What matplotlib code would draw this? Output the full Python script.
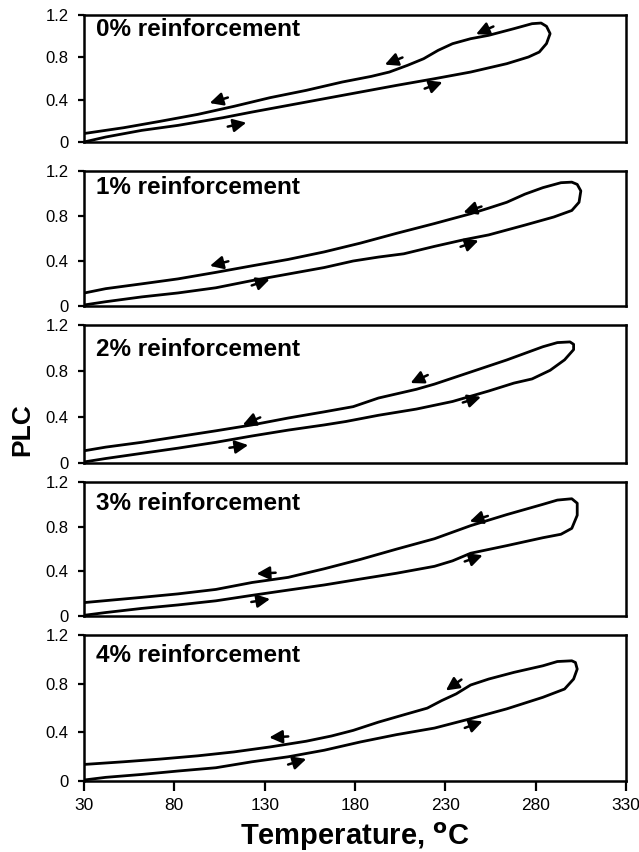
import numpy as np
import matplotlib
matplotlib.use("Agg")
import matplotlib.pyplot as plt

plt.rcParams['font.family'] = ['Liberation Sans', 'DejaVu Sans']

# reinforcement levels
labels = ["0% reinforcement", "1% reinforcement", "2% reinforcement",
          "3% reinforcement", "4% reinforcement"]

# heating branch (lower curve, incl. the turn at the top) and cooling branch
temp_0_heat = [30, 42, 62, 82, 107, 123, 143, 163, 183, 203, 224, 244, 264, 276, 282, 286, 288, 286, 283]
plc_0_heat = [0.0, 0.047, 0.11, 0.157, 0.23, 0.283, 0.346, 0.409, 0.472, 0.535, 0.598, 0.661, 0.74, 0.803, 0.85, 0.93, 1.024, 1.093, 1.124]
temp_0_cool = [278, 268, 254, 244, 234, 226, 218, 209, 199, 189, 173, 153, 133, 113, 93, 72, 52, 30]
plc_0_cool = [1.118, 1.071, 1.008, 0.976, 0.929, 0.866, 0.787, 0.724, 0.661, 0.62, 0.567, 0.488, 0.419, 0.337, 0.261, 0.195, 0.135, 0.08]

temp_1_heat = [30, 42, 62, 82, 103, 123, 143, 163, 179, 193, 207, 224, 240, 254, 274, 290, 300, 304, 305, 303, 300]
plc_1_heat = [0.009, 0.038, 0.081, 0.116, 0.162, 0.226, 0.284, 0.342, 0.4, 0.435, 0.464, 0.53, 0.588, 0.632, 0.719, 0.791, 0.849, 0.922, 1.023, 1.081, 1.101]
temp_1_cool = [294, 284, 274, 264, 254, 244, 224, 203, 183, 163, 143, 123, 103, 82, 62, 42, 30]
plc_1_cool = [1.096, 1.052, 0.994, 0.922, 0.87, 0.82, 0.733, 0.646, 0.559, 0.481, 0.414, 0.357, 0.299, 0.241, 0.197, 0.154, 0.115]

temp_2_heat = [30, 42, 62, 82, 103, 123, 143, 163, 175, 193, 214, 234, 254, 268, 278, 288, 296, 301, 301, 299]
plc_2_heat = [0.009, 0.039, 0.084, 0.129, 0.18, 0.235, 0.286, 0.331, 0.361, 0.415, 0.469, 0.535, 0.626, 0.695, 0.731, 0.806, 0.897, 0.986, 1.032, 1.053]
temp_2_cool = [292, 284, 264, 244, 224, 214, 193, 179, 163, 143, 123, 103, 82, 62, 42, 30]
plc_2_cool = [1.047, 1.011, 0.896, 0.791, 0.686, 0.641, 0.565, 0.49, 0.445, 0.391, 0.331, 0.28, 0.229, 0.18, 0.138, 0.106]

temp_3_heat = [30, 42, 62, 82, 103, 123, 143, 163, 183, 203, 224, 234, 244, 264, 284, 294, 300, 303, 303, 300]
plc_3_heat = [0.006, 0.031, 0.068, 0.099, 0.136, 0.185, 0.232, 0.278, 0.331, 0.383, 0.445, 0.494, 0.562, 0.63, 0.701, 0.732, 0.785, 0.902, 1.01, 1.05]
temp_3_cool = [292, 284, 264, 244, 224, 203, 183, 163, 143, 123, 103, 82, 62, 30]
plc_3_cool = [1.038, 1.0, 0.908, 0.809, 0.692, 0.599, 0.507, 0.423, 0.346, 0.3, 0.238, 0.198, 0.167, 0.12]

temp_4_heat = [30, 42, 62, 82, 103, 123, 143, 163, 183, 203, 224, 244, 264, 284, 296, 301, 303, 302, 300]
plc_4_heat = [0.008, 0.03, 0.054, 0.082, 0.109, 0.158, 0.199, 0.253, 0.321, 0.381, 0.435, 0.512, 0.593, 0.688, 0.756, 0.838, 0.92, 0.974, 0.988]
temp_4_cool = [292, 284, 268, 254, 244, 236, 228, 220, 207, 193, 179, 167, 153, 133, 113, 93, 72, 52, 30]
plc_4_cool = [0.982, 0.947, 0.893, 0.838, 0.789, 0.716, 0.661, 0.599, 0.544, 0.484, 0.416, 0.37, 0.327, 0.28, 0.239, 0.207, 0.18, 0.158, 0.136]

# direction arrows: (temperature, PLC, direction, angle in degrees)
arrows_0 = [(104.6, 0.394, -1, 17), (201.4, 0.765, -1, 22), (251.8, 1.055, -1, 24),
            (114.7, 0.164, 1, 12), (223.5, 0.535, 1, 20)]
arrows_1 = [(104.8, 0.377, -1, 14), (245, 0.858, -1, 18),
            (127.8, 0.21, 1, 19), (243.4, 0.554, 1, 19)]
arrows_2 = [(122.7, 0.364, -1, 23), (215.5, 0.73, -1, 25),
            (115.7, 0.144, 1, 8), (244.7, 0.55, 1, 17)]
arrows_3 = [(130.8, 0.383, -1, 3), (248.5, 0.871, -1, 17),
            (127.8, 0.139, 1, 9), (245.7, 0.516, 1, 19)]
arrows_4 = [(137.8, 0.362, -1, 3), (234.6, 0.789, -1, 35),
            (148, 0.158, 1, 17), (245.7, 0.463, 1, 20)]

heat_t = [temp_0_heat, temp_1_heat, temp_2_heat, temp_3_heat, temp_4_heat]
heat_p = [plc_0_heat, plc_1_heat, plc_2_heat, plc_3_heat, plc_4_heat]
cool_t = [temp_0_cool, temp_1_cool, temp_2_cool, temp_3_cool, temp_4_cool]
cool_p = [plc_0_cool, plc_1_cool, plc_2_cool, plc_3_cool, plc_4_cool]
arrows = [arrows_0, arrows_1, arrows_2, arrows_3, arrows_4]

x_ticks = [30, 80, 130, 180, 230, 280, 330]
y_ticks = [0, 0.4, 0.8, 1.2]

W, H = 639, 852
fig = plt.figure(figsize=(W / 100, H / 100), dpi=100)

# panel frames in pixels (top, bottom)
frames = [(15, 142), (171, 306), (325, 463), (482, 616), (635, 781)]
label_off = [15, 16, 24, 22, 20]
left_px, right_px = 84, 626


def draw_arrow(ax, cx, cy, d, ang):
    px, py = ax.transData.transform((cx, cy))
    L = 19
    th = np.radians(ang)
    dx = d * L / 2 * np.cos(th)
    dy = d * L / 2 * np.sin(th)
    inv = ax.transData.inverted()
    tail = inv.transform((px - dx, py - dy))
    head = inv.transform((px + dx, py + dy))
    ax.annotate('', xy=head, xytext=tail,
                arrowprops=dict(arrowstyle='-|>,head_length=0.6,head_width=0.3',
                                lw=1.8, color='black', shrinkA=0, shrinkB=0,
                                mutation_scale=13))


for i in range(5):
    top, bot = frames[i]
    ax = fig.add_axes([left_px / W, 1 - bot / H, (right_px - left_px) / W, (bot - top) / H])
    t = list(heat_t[i]) + list(cool_t[i])
    p = list(heat_p[i]) + list(cool_p[i])
    ax.plot(t, p, color='black', lw=2.0, solid_joinstyle='round', solid_capstyle='round')
    ax.set_xlim(30, 330)
    ax.set_ylim(0, 1.2)
    ax.set_yticks(y_ticks)
    ax.set_yticklabels(['0', '0.4', '0.8', '1.2'])
    for s in ax.spines.values():
        s.set_linewidth(1.8)
    ax.tick_params(axis='y', direction='out', length=4, width=1.6, labelsize=12, pad=7)
    if i == 4:
        ax.set_xticks(x_ticks)
        ax.tick_params(axis='x', direction='out', length=7, width=1.6, labelsize=12.5, pad=5)
        ax.set_xlabel('Temperature, $\\mathbf{^{o}}$C', fontsize=21, fontweight='bold', labelpad=6)
    else:
        ax.set_xticks([])
    ax.text(12 / (right_px - left_px), 1 - label_off[i] / (bot - top), labels[i],
            transform=ax.transAxes, fontsize=17.5, fontweight='bold', va='center', ha='left')
    for a in arrows[i]:
        draw_arrow(ax, *a)

fig.text(22 / W, 1 - 430 / H, 'PLC', rotation=90, fontsize=19, fontweight='bold',
         ha='center', va='center')

fig.savefig('out.png', dpi=100)
